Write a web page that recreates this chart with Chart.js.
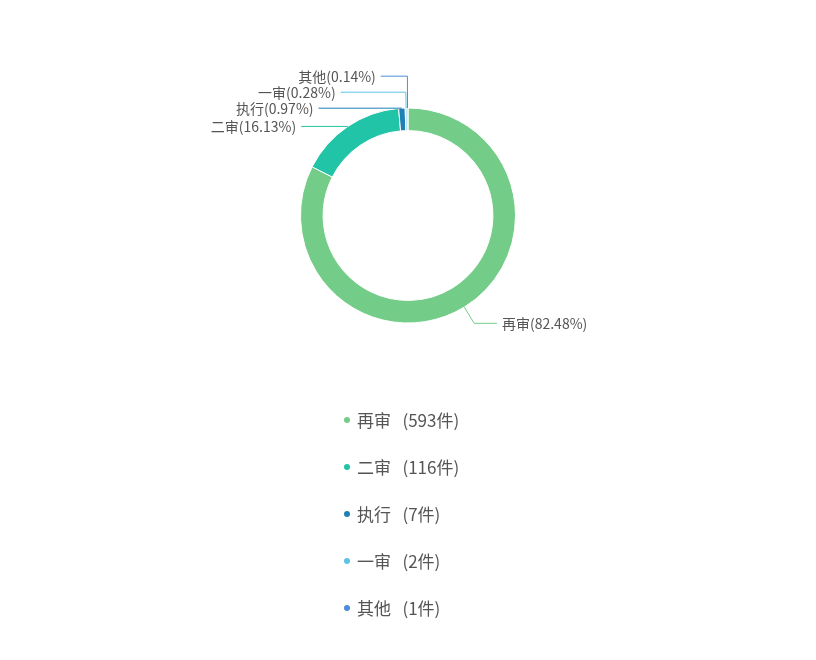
<!DOCTYPE html>
<html>
<head>
<meta charset="utf-8">
<script src="https://cdn.jsdelivr.net/npm/chart.js@4/dist/chart.umd.min.js"></script>
<style>
  html, body { margin: 0; padding: 0; background: #ffffff; }
  #wrap { width: 816px; height: 660px; position: relative; }
</style>
</head>
<body>
<div id="wrap"><canvas id="c"></canvas></div>
<script>
const categories = ['再审', '二审', '执行', '一审', '其他'];
const caseCounts = [593, 116, 7, 2, 1];
const sliceColors = ['#73cc87', '#22c4a8', '#1f80b4', '#5ec3e6', '#4a8fd6'];

const FONT = '"Noto Sans CJK SC", "Microsoft YaHei", "Noto Sans", sans-serif';

const labelPlugin = {
  id: 'pieLabels',
  afterDatasetsDraw(chart) {
    const ctx = chart.ctx;
    const meta = chart.getDatasetMeta(0);
    const data = chart.data.datasets[0].data;
    const total = data.reduce((a, b) => a + b, 0);
    const len1 = 19, spacing = 16, textR = 143, gap = 5;
    const items = meta.data.map((arc, i) => {
      const mid = (arc.startAngle + arc.endAngle) / 2;
      const dx = Math.cos(mid), dy = Math.sin(mid);
      const ax = arc.x + dx * arc.outerRadius, ay = arc.y + dy * arc.outerRadius;
      const natY = dy > 0 ? ay + dy * len1 : ay;
      return { i, cx: arc.x, cy: arc.y, ax, ay, dx, dy, y: natY, right: dx >= 0 };
    });
    [true, false].forEach(side => {
      const list = items.filter(it => it.right === side).sort((a, b) => b.y - a.y);
      for (let k = 1; k < list.length; k++) {
        list[k].y = Math.min(list[k].y, list[k - 1].y - spacing);
      }
    });
    ctx.save();
    ctx.font = '14px ' + FONT;
    ctx.textBaseline = 'middle';
    items.forEach(it => {
      const color = chart.data.datasets[0].backgroundColor[it.i];
      let t = Math.abs(it.dy) > 0.05 ? (it.y - it.ay) / it.dy : 0;
      t = Math.max(0, Math.min(30, t));
      const ex = it.ax + it.dx * t, ey = it.y;
      const ddy = it.y - it.cy;
      const off = Math.sqrt(Math.max(textR * textR - ddy * ddy, 0));
      const tx = it.right ? it.cx + off : it.cx - off;
      const lx = it.right ? tx - gap : tx + gap;
      ctx.strokeStyle = color;
      ctx.lineWidth = 1;
      ctx.beginPath();
      ctx.moveTo(it.ax, it.ay);
      ctx.lineTo(ex, ey);
      ctx.lineTo(lx, ey);
      ctx.stroke();
      const pct = (data[it.i] / total * 100).toFixed(2);
      ctx.fillStyle = '#555555';
      ctx.textAlign = it.right ? 'left' : 'right';
      ctx.fillText(chart.data.labels[it.i] + '(' + pct + '%)', tx, ey + 0.5);
    });
    ctx.restore();
  }
};

const legendPlugin = {
  id: 'listLegend',
  afterDraw(chart) {
    const ctx = chart.ctx;
    const top = 420, rowGap = 47, dotX = 347, textX = 357;
    const ds = chart.data.datasets[0];
    ctx.save();
    ctx.font = '17px ' + FONT;
    ctx.textBaseline = 'middle';
    ctx.textAlign = 'left';
    chart.data.labels.forEach((name, i) => {
      const y = top + i * rowGap;
      ctx.fillStyle = ds.backgroundColor[i];
      ctx.beginPath();
      ctx.arc(dotX, y, 3, 0, Math.PI * 2);
      ctx.fill();
      ctx.fillStyle = '#555555';
      ctx.fillText(name + '   (' + ds.data[i] + '件)', textX, y + 0.5);
    });
    ctx.restore();
  }
};

new Chart(document.getElementById('c'), {
  type: 'doughnut',
  data: {
    labels: categories,
    datasets: [{
      data: caseCounts,
      backgroundColor: sliceColors,
      borderColor: '#ffffff',
      borderWidth: 1,
      hoverOffset: 0
    }]
  },
  options: {
    responsive: true,
    maintainAspectRatio: false,
    animation: false,
    radius: 107.5,
    cutout: '79%',
    layout: { padding: { top: 100, bottom: 329, left: 0, right: 0 } },
    plugins: {
      legend: { display: false },
      tooltip: { enabled: false }
    }
  },
  plugins: [labelPlugin, legendPlugin]
});
</script>
</body>
</html>
